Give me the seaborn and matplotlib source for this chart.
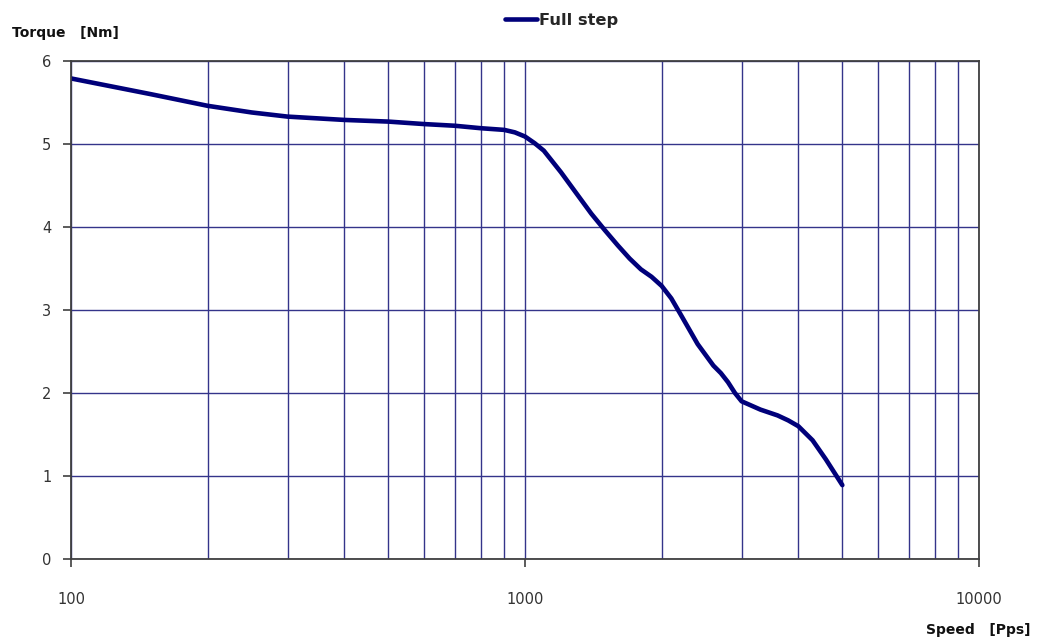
import numpy as np
import pandas as pd
import matplotlib
matplotlib.use('Agg')
import matplotlib.pyplot as plt
from matplotlib.ticker import LogLocator, FixedLocator, NullFormatter
import seaborn as sns

# torque curve (speed in pps, torque in Nm)
speed = [100, 150, 200, 250, 300, 400, 500, 600, 700, 800, 900, 950, 1000, 1050,
         1100, 1200, 1300, 1400, 1500, 1600, 1700, 1800, 1900, 2000, 2100, 2200,
         2400, 2600, 2700, 2800, 2900, 3000, 3300, 3600, 3800, 4000, 4300, 4600, 5000]
torque = [5.79, 5.60, 5.46, 5.38, 5.33, 5.29, 5.27, 5.24, 5.22, 5.19, 5.17, 5.14,
          5.09, 5.01, 4.92, 4.66, 4.40, 4.16, 3.96, 3.78, 3.62, 3.49, 3.40, 3.29,
          3.14, 2.95, 2.59, 2.33, 2.24, 2.13, 2.00, 1.90, 1.80, 1.73, 1.67, 1.60,
          1.43, 1.20, 0.89]
series_name = 'Full step'
y_ticks = [0, 1, 2, 3, 4, 5, 6]
x_ticks = [100, 1000, 10000]

df = pd.DataFrame({'speed': speed, 'torque': torque, 'series': series_name})

sns.set_style('white')
plt.rcParams['font.family'] = ['DejaVu Sans']

fig = plt.figure(figsize=(10.38, 6.43), dpi=100)
ax = fig.add_axes([71 / 1038, 84 / 643, 908 / 1038, 498 / 643])

grid_col = '#34348a'
line_col = '#00007a'

sns.lineplot(data=df, x='speed', y='torque', hue='series', palette=[line_col],
             linewidth=3.3, sort=True, ax=ax, legend=True, zorder=3,
             solid_joinstyle='round', solid_capstyle='round')

ax.set_xscale('log')
ax.set_xlim(100, 10000)
ax.set_ylim(0, 6)
ax.xaxis.set_major_locator(FixedLocator(x_ticks))
ax.xaxis.set_minor_locator(LogLocator(base=10, subs=np.arange(2, 10)))
ax.xaxis.set_minor_formatter(NullFormatter())
ax.set_xticklabels([str(t) for t in x_ticks])
ax.set_yticks(y_ticks)

ax.grid(True, which='both', axis='x', color=grid_col, linewidth=1.0)
ax.grid(True, which='major', axis='y', color=grid_col, linewidth=1.0)
ax.set_axisbelow(True)

for s in ax.spines.values():
    s.set_color('#404040')
    s.set_linewidth(1.3)
    s.set_zorder(4)

ax.tick_params(axis='both', which='major', direction='out', length=6,
               width=1.2, color='#404040', labelcolor='#333333', labelsize=10.5,
               bottom=True, left=True)
ax.tick_params(axis='x', which='major', pad=18)
ax.tick_params(axis='x', which='minor', length=0, bottom=False)
ax.tick_params(axis='y', pad=8)
ax.set_xlabel('')
ax.set_ylabel('')

handles, labels = ax.get_legend_handles_labels()
ax.get_legend().remove()
fig.legend(handles, labels, loc='center', bbox_to_anchor=(0.541, 0.968),
           frameon=False, handlelength=2.0, handletextpad=0.1,
           prop={'weight': 'bold', 'size': 11.7})

fig.text(12 / 1038, 1 - 33 / 643, 'Torque   [Nm]', fontsize=10, fontweight='bold',
         color='#111111', va='center', ha='left')
fig.text(1030 / 1038, 1 - 630 / 643, 'Speed   [Pps]', fontsize=10, fontweight='bold',
         color='#111111', va='center', ha='right')

fig.savefig('out.png', dpi=100)
